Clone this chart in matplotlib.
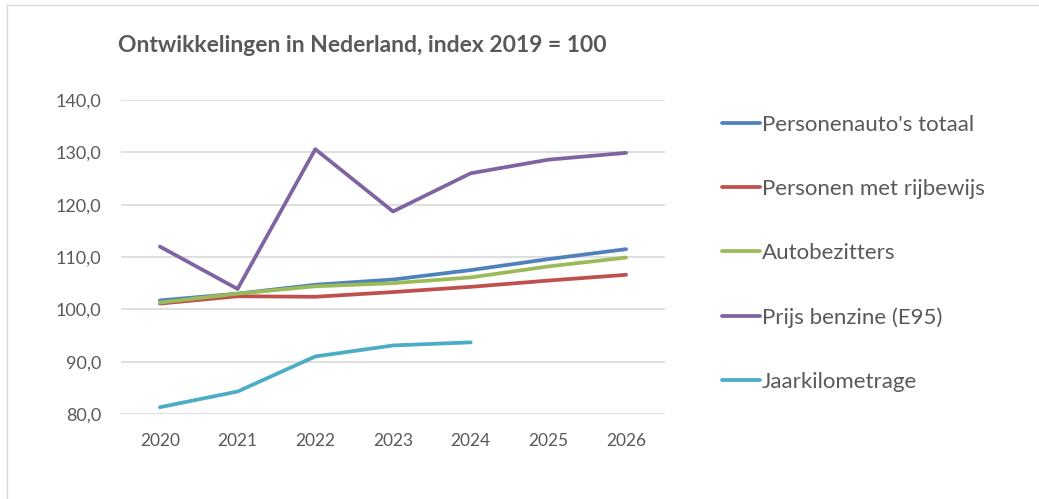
import matplotlib.pyplot as plt
from matplotlib.lines import Line2D
from matplotlib.ticker import FuncFormatter

years = ["2020", "2021", "2022", "2023", "2024", "2025", "2026"]
auto_totaal = [101.7, 103.0, 104.7, 105.7, 107.5, 109.6, 111.5]
rijbewijs = [101.1, 102.5, 102.4, 103.3, 104.3, 105.5, 106.6]
autobezitters = [101.3, 103.0, 104.4, 105.0, 106.1, 108.2, 109.9]
benzine = [112.0, 103.9, 130.6, 118.7, 126.0, 128.6, 129.9]
kilometrage = [81.3, 84.3, 91.0, 93.1, 93.7]

series = [
    ("Personenauto's totaal", auto_totaal, "#4F81BD"),
    ("Personen met rijbewijs", rijbewijs, "#C0504D"),
    ("Autobezitters", autobezitters, "#9BBB59"),
    ("Prijs benzine (E95)", benzine, "#8064A2"),
    ("Jaarkilometrage", kilometrage, "#4BACC6"),
]

plt.rcParams['font.family'] = ['Lato', 'DejaVu Sans']
txt = "#595959"

fig = plt.figure(figsize=(10.39, 4.99), dpi=100)
ax = fig.add_axes([0.1165, 0.1703, 0.5235, 0.6293])

x = list(range(len(years)))
for name, vals, col in series:
    ax.plot(x[:len(vals)], vals, color=col, lw=2.7, label=name, solid_capstyle='round')

ax.set_xlim(-0.5, len(years) - 0.5)
ax.set_ylim(80, 140)
ax.set_yticks(range(80, 141, 10))
ax.yaxis.set_major_formatter(FuncFormatter(lambda v, p: f"{v:.1f}".replace(".", ",")))
ax.set_xticks(x)
ax.set_xticklabels(years)
ax.grid(axis='y', color="#D9D9D9", lw=1.2)
ax.set_axisbelow(True)
for s in ax.spines.values():
    s.set_visible(False)
ax.tick_params(axis='y', length=0, labelsize=13, colors=txt, pad=14)
ax.tick_params(axis='x', length=0, labelsize=12.5, colors=txt, pad=14)

fig.text(0.1135, 0.908, "Ontwikkelingen in Nederland, index 2019 = 100",
         fontsize=16.5, fontweight='bold', color=txt, va='center', ha='left')

leg = ax.legend(loc='center left', bbox_to_anchor=(0.695, 0.492),
                bbox_transform=fig.transFigure, frameon=False, fontsize=16,
                labelspacing=1.98, handlelength=1.7, handletextpad=0.1,
                borderpad=0, borderaxespad=0)
for t in leg.get_texts():
    t.set_color(txt)

# thin frame on the left and top edge, as in the cropped screenshot
fig.add_artist(Line2D([0.0067, 0.0067], [0.0, 0.99], color="#D9D9D9", lw=1, transform=fig.transFigure))
fig.add_artist(Line2D([0.0067, 1.0], [0.99, 0.99], color="#D9D9D9", lw=1, transform=fig.transFigure))

fig.savefig("out.png", dpi=100)
